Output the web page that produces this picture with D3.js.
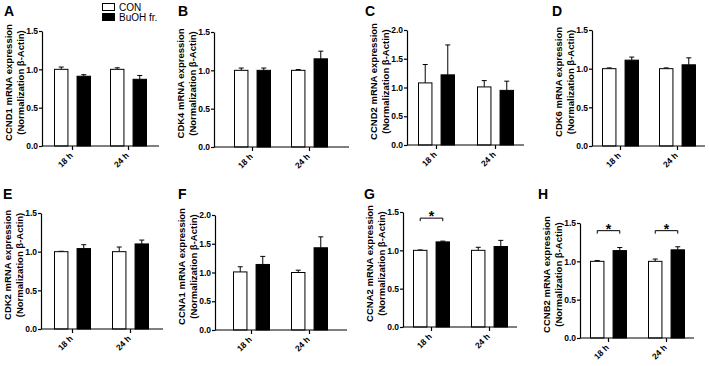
<!DOCTYPE html>
<html>
<head>
<meta charset="utf-8">
<script src="https://cdn.jsdelivr.net/npm/d3@7"></script>
<style>
  body { margin: 0; background: #fff; }
  svg { display: block; font-family: Arial, "Liberation Sans", sans-serif; }
</style>
</head>
<body>
<script>
const w = 709;
const h = 366;

// data
const groups = ["18 h", "24 h"];
const series = ["CON", "BuOH fr."];
const letters = ["A", "B", "C", "D", "E", "F", "G", "H"];
const genes = ["CCND1", "CDK4", "CCND2", "CDK6", "CDK2", "CCNA1", "CCNA2", "CCNB2"];
const yMax = [1.5, 1.5, 2.0, 1.5, 1.5, 2.0, 1.5, 1.5];
const conMean = [[1.0, 1.0], [1.0, 1.0], [1.08, 1.01], [1.0, 1.0], [1.0, 1.0], [1.01, 1.0], [1.0, 1.0], [1.0, 1.0]];
const conSem = [[0.03, 0.02], [0.03, 0.01], [0.32, 0.11], [0.01, 0.01], [0.005, 0.06], [0.09, 0.04], [0.005, 0.04], [0.01, 0.03]];
const buohMean = [[0.91, 0.87], [1.0, 1.15], [1.22, 0.95], [1.11, 1.05], [1.04, 1.1], [1.14, 1.43], [1.11, 1.05], [1.14, 1.15]];
const buohSem = [[0.02, 0.05], [0.03, 0.1], [0.52, 0.16], [0.04, 0.09], [0.05, 0.05], [0.14, 0.19], [0.01, 0.08], [0.04, 0.04]];
const sigGroups = [[], [], [], [], [], [], ["18 h"], ["18 h", "24 h"]];

// panel placement (pixels)
const layout = [
  { ax: 42, x0: 54, step: 56, end: 159, top: 31, bot: 146, lx: 4, ly: 16 },
  { ax: 214, x0: 234, step: 57, end: 349, top: 32, bot: 147, lx: 178, ly: 16 },
  { ax: 407, x0: 418, step: 59, end: 524, top: 30, bot: 145, lx: 365, ly: 16 },
  { ax: 592, x0: 602, step: 57, end: 705, top: 30, bot: 146, lx: 552, ly: 16 },
  { ax: 41, x0: 54, step: 58, end: 163, top: 213, bot: 329, lx: 3, ly: 199 },
  { ax: 215, x0: 233, step: 58, end: 347, top: 215, bot: 330, lx: 178, ly: 199 },
  { ax: 403, x0: 413, step: 58, end: 517, top: 212, bot: 327, lx: 364, ly: 199, sig: 1.42 },
  { ax: 580, x0: 590, step: 58, end: 694, top: 223, bot: 338, lx: 538, ly: 199, sig: 1.4 },
];
const groupW = 37;

const svg = d3.select("body").append("svg").attr("width", w).attr("height", h);

layout.forEach((L, i) => {
  const g = svg.append("g");
  const rows = groups.map((grp, j) => ({
    grp,
    vals: [
      { s: series[0], m: conMean[i][j], e: conSem[i][j] },
      { s: series[1], m: buohMean[i][j], e: buohSem[i][j] },
    ],
  }));

  const x = d3
    .scaleBand()
    .domain(groups)
    .range([L.x0, L.x0 + L.step + groupW])
    .paddingInner(1 - groupW / L.step)
    .paddingOuter(0);
  const xs = d3
    .scaleBand()
    .domain(series)
    .range([0, x.bandwidth()])
    .paddingInner(0.36)
    .paddingOuter(0);
  const y = d3.scaleLinear().domain([0, yMax[i]]).range([L.bot, L.top]);

  // panel letter
  g.append("text")
    .attr("x", L.lx)
    .attr("y", L.ly)
    .attr("font-size", 14)
    .attr("font-weight", "bold")
    .text(letters[i]);

  // bars
  const bar = g
    .selectAll("g.grp")
    .data(rows)
    .enter()
    .append("g")
    .attr("transform", (d) => `translate(${x(d.grp)},0)`)
    .selectAll("g.bar")
    .data((d) => d.vals)
    .enter()
    .append("g");

  bar
    .append("line")
    .attr("x1", (d) => xs(d.s) + xs.bandwidth() / 2)
    .attr("x2", (d) => xs(d.s) + xs.bandwidth() / 2)
    .attr("y1", (d) => y(d.m))
    .attr("y2", (d) => y(d.m + d.e))
    .attr("stroke", "#000")
    .attr("stroke-width", 1);
  bar
    .append("line")
    .attr("x1", (d) => xs(d.s) + xs.bandwidth() / 2 - 2.5)
    .attr("x2", (d) => xs(d.s) + xs.bandwidth() / 2 + 2.5)
    .attr("y1", (d) => y(d.m + d.e))
    .attr("y2", (d) => y(d.m + d.e))
    .attr("stroke", "#000")
    .attr("stroke-width", 1);
  bar
    .append("rect")
    .attr("x", (d) => xs(d.s) + 0.5)
    .attr("y", (d) => y(d.m))
    .attr("width", xs.bandwidth() - 1)
    .attr("height", (d) => L.bot - y(d.m))
    .attr("fill", (d) => (d.s === series[0] ? "#fff" : "#000"))
    .attr("stroke", "#000")
    .attr("stroke-width", 1);

  // y-axis
  const yAxis = d3
    .axisLeft(y)
    .tickValues(d3.range(0, yMax[i] + 0.01, 0.5))
    .tickFormat(d3.format(".1f"))
    .tickSize(3)
    .tickSizeOuter(0)
    .tickPadding(1);
  const ya = g.append("g").attr("transform", `translate(${L.ax},0)`).call(yAxis);
  ya.selectAll("path, line").attr("stroke", "#000").attr("stroke-width", 1.2);
  ya.selectAll("text")
    .attr("font-size", 8.5)
    .attr("font-weight", "bold")
    .attr("font-family", "Arial, 'Liberation Sans', sans-serif");

  // x-axis
  g.append("line")
    .attr("x1", L.ax)
    .attr("x2", L.end)
    .attr("y1", L.bot)
    .attr("y2", L.bot)
    .attr("stroke", "#000")
    .attr("stroke-width", 1.2);
  const xt = g
    .selectAll("g.xt")
    .data(groups)
    .enter()
    .append("g")
    .attr("transform", (d) => `translate(${x(d) + x.bandwidth() / 2},${L.bot})`);
  xt.append("line").attr("y2", 4).attr("stroke", "#000").attr("stroke-width", 1.2);
  xt.append("text")
    .attr("transform", "translate(1,10) rotate(-45)")
    .attr("text-anchor", "end")
    .attr("font-size", 8.5)
    .attr("font-weight", "bold")
    .text((d) => d);

  // y label
  const cy = (L.top + L.bot) / 2 - 6;
  const yl = g
    .append("text")
    .attr("transform", `translate(${L.ax - 30},${cy}) rotate(-90)`)
    .attr("text-anchor", "middle")
    .attr("font-size", 9.5)
    .attr("font-weight", "bold");
  yl.append("tspan").attr("x", 0).attr("y", 0).text(`${genes[i]} mRNA expression`);
  yl.append("tspan").attr("x", 0).attr("y", 12).text("(Normalization β-Actin)");

  // significance
  sigGroups[i].forEach((grp) => {
    const xa = x(grp) + xs(series[0]) + xs.bandwidth() / 2;
    const xb = x(grp) + xs(series[1]) + xs.bandwidth() / 2;
    const yb = y(L.sig);
    g.append("path")
      .attr("d", `M${xa},${yb + 3}V${yb}H${xb}V${yb + 3}`)
      .attr("fill", "none")
      .attr("stroke", "#000")
      .attr("stroke-width", 1);
    g.append("text")
      .attr("x", (xa + xb) / 2)
      .attr("y", yb + 3)
      .attr("text-anchor", "middle")
      .attr("font-size", 14)
      .attr("font-weight", "bold")
      .text("*");
  });
});

// legend
const legend = svg.append("g").attr("transform", "translate(102,3)");
series.forEach((s, k) => {
  legend
    .append("rect")
    .attr("x", 0.5)
    .attr("y", k * 10 + 0.5)
    .attr("width", 12)
    .attr("height", 7)
    .attr("fill", k === 0 ? "#fff" : "#000")
    .attr("stroke", "#000");
  legend
    .append("text")
    .attr("x", 17)
    .attr("y", k * 10 + 7.5)
    .attr("font-size", 10)
    .text(s);
});
</script>
</body>
</html>
